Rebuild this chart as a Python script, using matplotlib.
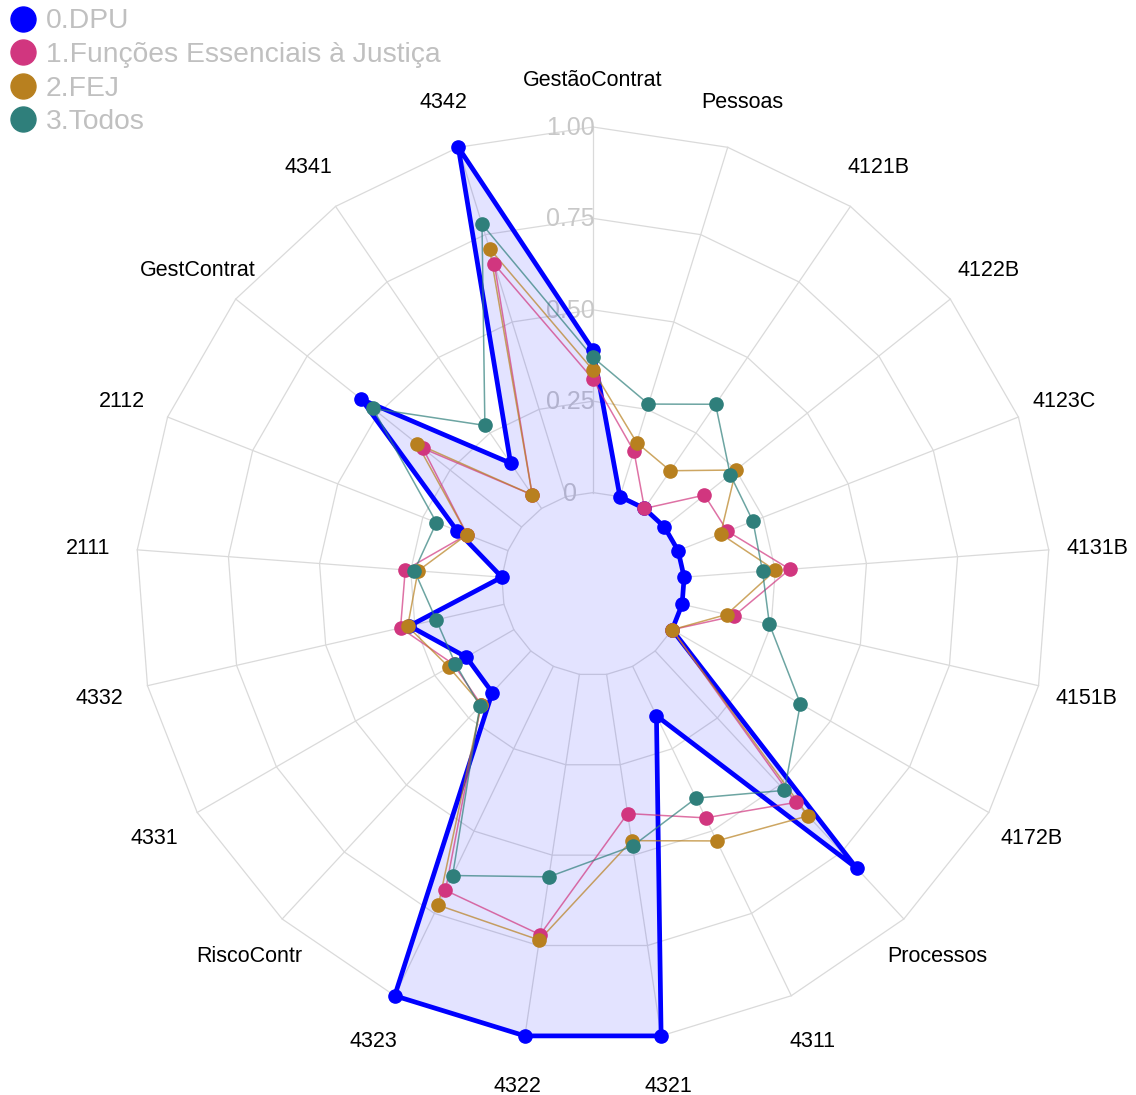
import numpy as np
import matplotlib.pyplot as plt
from matplotlib.lines import Line2D

plt.rcParams['font.family'] = ['Liberation Sans', 'DejaVu Sans']

# radar axes, clockwise from the top
axis_names = ['GestãoContrat', 'Pessoas', '4121B', '4122B', '4123C', '4131B',
              '4151B', '4172B', 'Processos', '4311', '4321', '4322', '4323',
              'RiscoContr', '4331', '4332', '2111', '2112', 'GestContrat',
              '4341', '4342']

groups = ['0.DPU', '1.Funções Essenciais à Justiça', '2.FEJ', '3.Todos']
colors = ['#0000FF', '#D1367F', '#B8801F', '#2F7F7B']

dpu = [0.39, 0.0, 0.0, 0.0, 0.0, 0.0, 0.0, 0.0, 0.81, 0.15, 1.0, 1.0, 1.0,
       0.155, 0.15, 0.265, 0.0, 0.15, 0.56, 0.15, 1.0]
funcoes = [0.31, 0.13, 0.0, 0.14, 0.145, 0.29, 0.145, 0.0, 0.565, 0.46, 0.385,
           0.72, 0.68, 0.2, 0.19, 0.29, 0.265, 0.12, 0.345, 0.045, 0.665]
fej = [0.335, 0.155, 0.125, 0.25, 0.125, 0.25, 0.125, 0.0, 0.615, 0.53, 0.46,
       0.735, 0.725, 0.2, 0.205, 0.27, 0.23, 0.12, 0.365, 0.045, 0.71]
todos = [0.37, 0.265, 0.345, 0.23, 0.22, 0.215, 0.245, 0.405, 0.52, 0.40, 0.475,
         0.56, 0.635, 0.205, 0.185, 0.19, 0.24, 0.21, 0.52, 0.275, 0.78]
series = [dpu, funcoes, fej, todos]

levels = [0, 0.25, 0.5, 0.75, 1.0]
level_labels = ['0', '0.25', '0.50', '0.75', '1.00']

W, H = 1136, 1095
cx, cy, R = 593, 584, 457

fig = plt.figure(figsize=(W / 100, H / 100), dpi=100)
ax = fig.add_axes([(cx - R) / W, (H - cy - R) / H, 2 * R / W, 2 * R / H],
                  projection='polar')
ax.set_theta_zero_location('N')
ax.set_theta_direction(-1)
ax.set_ylim(-0.25, 1.0)
ax.axis('off')

n = len(axis_names)
theta = np.arange(n) * 2 * np.pi / n
closed = lambda v: np.append(v, v[0])
th_c = closed(theta)

grid_col = '#DADADA'
for lev in levels:
    ax.plot(th_c, [lev] * (n + 1), color=grid_col, lw=0.9, zorder=1, clip_on=False)
for t in theta:
    ax.plot([t, t], [0, 1.0], color=grid_col, lw=0.9, zorder=1, clip_on=False)

for lev, lab in zip(levels, level_labels):
    ax.annotate(lab, xy=(0, lev), xytext=(-23, -1), textcoords='offset pixels',
                ha='center', va='center', fontsize=18, color='#C8C8C8', zorder=1.5,
                annotation_clip=False)

for t, name in zip(theta, axis_names):
    ax.annotate(name, xy=(t, 1.134), xytext=(0, -2), textcoords='offset pixels',
                ha='center', va='center', fontsize=15.5, color='black',
                annotation_clip=False)

ax.fill(theta, dpu, color='#0000FF', alpha=0.11, lw=0, zorder=2, clip_on=False)

for i, (vals, col) in enumerate(zip(series, colors)):
    if i == 0:
        ax.plot(th_c, closed(vals), color=col, lw=3.4, zorder=3,
                solid_joinstyle='round', clip_on=False)
    else:
        ax.plot(th_c, closed(vals), color=col, lw=1.1, alpha=0.7, zorder=3,
                clip_on=False)
for vals, col in zip(series, colors):
    ax.plot(theta, vals, 'o', color=col, ms=9.5, zorder=4, clip_on=False)

handles = [Line2D([], [], marker='o', ls='', color=c, ms=18) for c in colors]
fig.legend(handles, groups, loc='upper left', bbox_to_anchor=(0.0, 1.0),
           frameon=False, fontsize=20.3, labelcolor='#C0C0C0', borderaxespad=0,
           borderpad=0.3, handlelength=1.0, handletextpad=0.32, labelspacing=0.27)

fig.savefig('out.png', dpi=100)
